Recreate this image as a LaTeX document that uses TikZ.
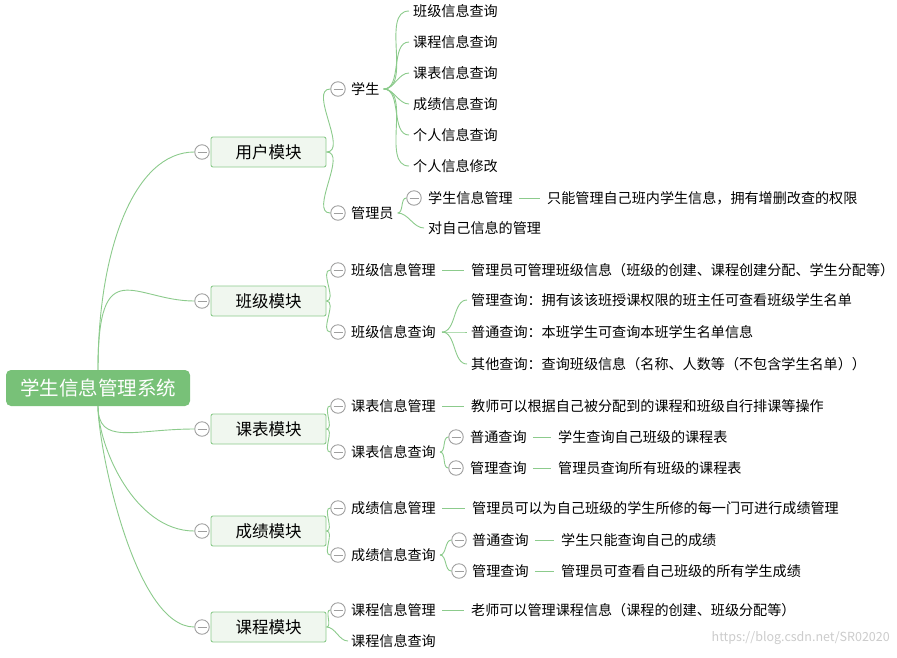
\documentclass[tikz,border=0pt]{standalone}
\usepackage{fontspec}
\setmainfont{Noto Sans CJK SC}
\definecolor{lg}{HTML}{8CCB8C}
\definecolor{rootg}{HTML}{78C178}
\definecolor{modf}{HTML}{F0F7EF}
\begin{document}
\begin{tikzpicture}[x=1pt,y=-1pt,
 txt/.style={anchor=west,inner sep=0pt,font=\fontsize{14.1}{16}\selectfont},
 modbox/.style={draw=lg,fill=modf,rounded corners=2pt,minimum width=115pt,minimum height=30pt,line width=0.9pt,font=\fontsize{16.5}{19}\selectfont},
 col/.style={circle,draw=gray!75,fill=white,minimum size=14.5pt,inner sep=0pt,line width=0.9pt,
   path picture={\draw[gray!75,line width=0.9pt] ([xshift=-4.5pt]path picture bounding box.center) -- ([xshift=4.5pt]path picture bounding box.center);}},
 br/.style={draw=lg,line width=0.9pt},
 cv/.style={br,out=0,in=180,looseness=0.9}]
\useasboundingbox (0,0) rectangle (897,657);
\fill[white] (0,0) rectangle (897,657);
% root
\node[fill=rootg,rounded corners=5pt,minimum width=184pt,minimum height=36pt,text=white,font=\fontsize{19.5}{22}\selectfont] (root) at (98,388) {学生信息管理系统};
% modules
\foreach \n/\y/\t in {m1/152/用户模块,m2/301/班级模块,m3/429/课表模块,m4/531/成绩模块,m5/627/课程模块}{
  \node[modbox] (\n) at (268.5,\y) {\t};
  \node[col] (\n c) at (202,\y) {};
}
\foreach \n in {m1,m2}{\draw[br] (root.north) .. controls +(0,-120) and +(-60,0) .. (\n c.west);}
\foreach \n in {m3,m4,m5}{\draw[br] (root.south) .. controls +(0,40) and +(-60,0) .. (\n c.west);}
% level2 collapse + text
\foreach \n/\y/\t/\m in {s/89/学生/m1,g/213/管理员/m1,a1/270/班级信息管理/m2,a2/332/班级信息查询/m2,b1/406/课表信息管理/m3,b2/452/课表信息查询/m3,c1/508/成绩信息管理/m4,c2/555/成绩信息查询/m4,d1/610/课程信息管理/m5}{
  \node[col] (\n c) at (338,\y) {};
  \node[txt] (\n) at (351,\y) {\t};
  \draw[cv] (\m.east) to (\n c.west);
}
\node[txt] (d2) at (351,641) {课程信息查询};
\draw[cv] (m5.east) to ([xshift=-3pt]d2.west);
% student leaves
\foreach \n/\y/\t in {s1/11/班级信息查询,s2/42/课程信息查询,s3/73/课表信息查询,s4/104/成绩信息查询,s5/135/个人信息查询,s6/166/个人信息修改}{
  \node[txt] (\n) at (413,\y) {\t};
  \draw[cv] ([xshift=4pt]s.east) to ([xshift=-4pt]\n.west);
}
% admin
\node[col] (g1c) at (414,198) {};
\node[txt] (g1) at (428,198) {学生信息管理};
\node[txt] (g2) at (428,228) {对自己信息的管理};
\draw[cv] ([xshift=4pt]g.east) to (g1c.west);
\draw[cv] ([xshift=4pt]g.east) to ([xshift=-4pt]g2.west);
\node[txt] (g1x) at (547,198) {只能管理自己班内学生信息，拥有增删改查的权限};
\draw[br] ([xshift=6pt]g1.east) -- ([xshift=-7pt]g1x.west);
% class
\node[txt] (a1x) at (471,270) {管理员可管理班级信息（班级的创建、课程创建分配、学生分配等）};
\draw[br] ([xshift=6pt]a1.east) -- ([xshift=-7pt]a1x.west);
\foreach \n/\y/\t in {a21/300/管理查询：拥有该该班授课权限的班主任可查看班级学生名单,a22/332/普通查询：本班学生可查询本班学生名单信息,a23/364/其他查询：查询班级信息（名称、人数等（不包含学生名单））}{
  \node[txt] (\n) at (471,\y) {\t};
  \draw[cv] ([xshift=6pt]a2.east) to ([xshift=-4pt]\n.west);
}
% timetable
\node[txt] (b1x) at (471,406) {教师可以根据自己被分配到的课程和班级自行排课等操作};
\draw[br] ([xshift=6pt]b1.east) -- ([xshift=-7pt]b1x.west);
\foreach \n/\y/\t/\u in {b21/437/普通查询/学生查询自己班级的课程表,b22/468/管理查询/管理员查询所有班级的课程表}{
  \node[col] (\n c) at (456,\y) {};
  \node[txt] (\n) at (470,\y) {\t};
  \draw[cv] ([xshift=4pt]b2.east) to (\n c.west);
  \node[txt] (\n x) at (558,\y) {\u};
  \draw[br] ([xshift=6pt]\n.east) -- ([xshift=-7pt]\n x.west);
}
% grades
\node[txt] (c1x) at (472,508) {管理员可以为自己班级的学生所修的每一门可进行成绩管理};
\draw[br] ([xshift=6pt]c1.east) -- ([xshift=-7pt]c1x.west);
\foreach \n/\y/\t/\u in {c21/540/普通查询/学生只能查询自己的成绩,c22/571/管理查询/管理员可查看自己班级的所有学生成绩}{
  \node[col] (\n c) at (459,\y) {};
  \node[txt] (\n) at (472,\y) {\t};
  \draw[cv] ([xshift=4pt]c2.east) to (\n c.west);
  \node[txt] (\n x) at (561,\y) {\u};
  \draw[br] ([xshift=6pt]\n.east) -- ([xshift=-7pt]\n x.west);
}
% course
\node[txt] (d1x) at (471,610) {老师可以管理课程信息（课程的创建、班级分配等）};
\draw[br] ([xshift=6pt]d1.east) -- ([xshift=-7pt]d1x.west);
\node[anchor=east,inner sep=0pt,text=gray!40,font=\fontsize{12.5}{14}\selectfont] (wm) at (890,638) {https://blog.csdn.net/SR02020};
\end{tikzpicture}
\end{document}
